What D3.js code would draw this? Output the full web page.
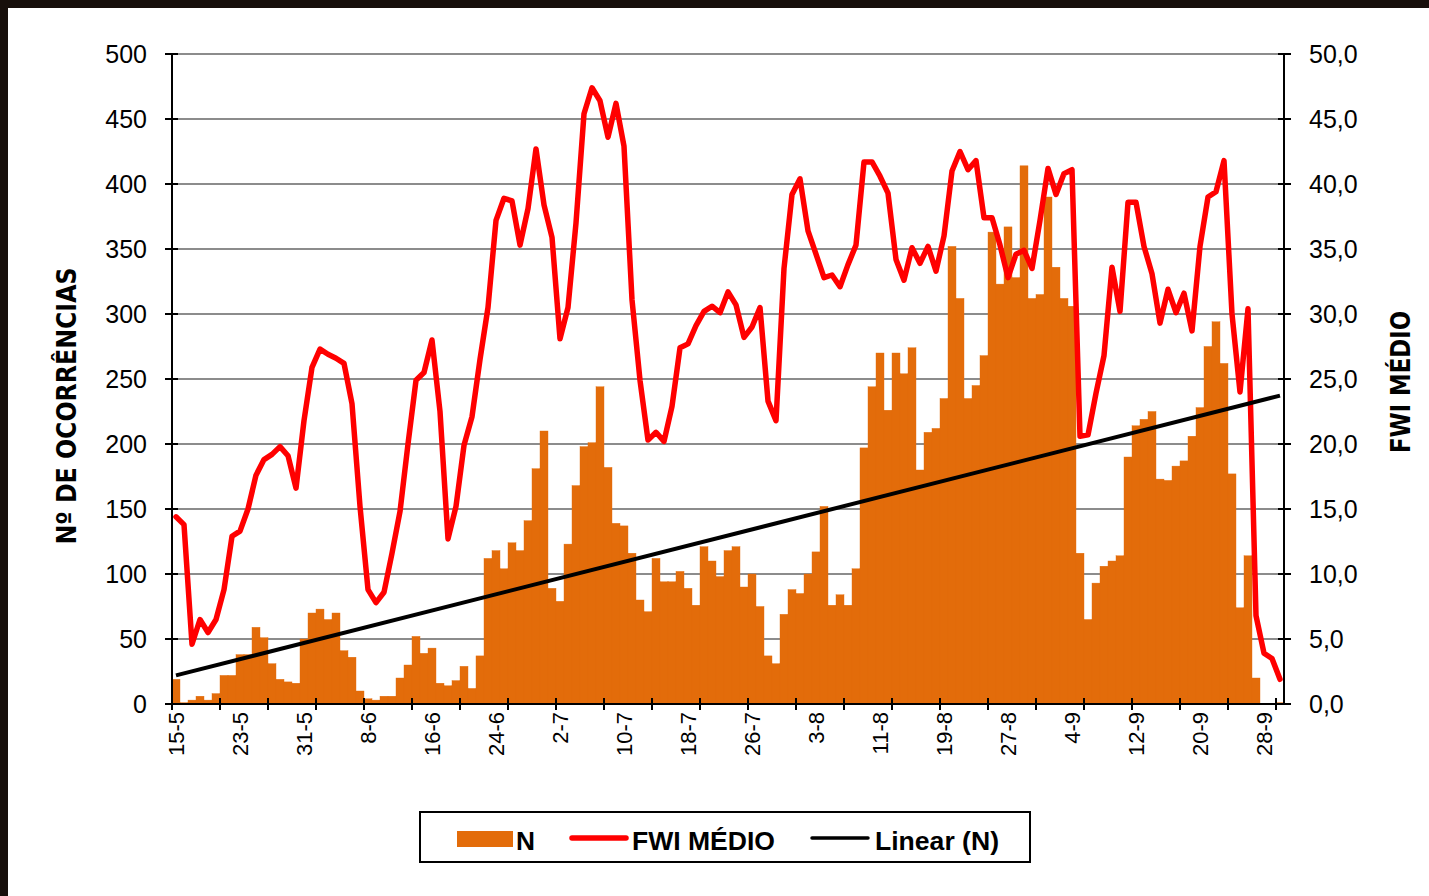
<!DOCTYPE html>
<html>
<head>
<meta charset="utf-8">
<script src="https://cdn.jsdelivr.net/npm/d3@7"></script>
<style>
  html, body { margin: 0; padding: 0; background: #ffffff; }
  svg { display: block; }
  text { font-family: "Liberation Sans", Arial, sans-serif; fill: #000; }
</style>
</head>
<body>
<svg id="chart" width="1429" height="896"></svg>
<script>
// ---- DATA ----
const startDate = "2000-05-15";   // first category (15-5)
const nDays = 139;                // 15-5 .. 30-9
const tickLabels = ["15-5","23-5","31-5","8-6","16-6","24-6","2-7","10-7","18-7","26-7","3-8","11-8","19-8","27-8","4-9","12-9","20-9","28-9"];
const leftTicks = [0,50,100,150,200,250,300,350,400,450,500];
const rightTicks = [0,5,10,15,20,25,30,35,40,45,50];

// N (number of occurrences), one per day
const nValues = [
  19, 1, 3, 6, 3, 8, 22, 22, 38, 38,
  59, 51, 31, 19, 17, 16, 50, 70, 73, 65,
  70, 41, 36, 10, 4, 3, 6, 6, 20, 30,
  52, 39, 43, 16, 14, 18, 29, 12, 37, 112,
  118, 104, 124, 118, 141, 181, 210, 89, 79, 123,
  168, 198, 201, 244, 182, 139, 137, 116, 80, 71,
  112, 94, 94, 102, 89, 76, 121, 110, 98, 118,
  121, 90, 100, 75, 37, 31, 69, 88, 85, 100,
  117, 152, 76, 84, 76, 104, 197, 244, 270, 226,
  270, 254, 274, 180, 209, 212, 235, 352, 312, 235,
  245, 268, 363, 323, 367, 328, 414, 312, 315, 390,
  336, 312, 306, 116, 65, 93, 106, 110, 114, 190,
  214, 219, 225, 173, 172, 183, 187, 206, 228, 275,
  294, 262, 177, 74, 114, 20, 0, 0, 1
];

// FWI MÉDIO, one per day
const fwiValues = [
  14.4, 13.8, 4.6, 6.5, 5.5, 6.5, 8.8, 12.9, 13.3, 15.0,
  17.6, 18.8, 19.2, 19.8, 19.1, 16.6, 21.8, 25.9, 27.3, 26.9,
  26.6, 26.2, 23.1, 15.2, 8.8, 7.8, 8.6, 11.6, 14.8, 20.0,
  24.9, 25.5, 28.0, 22.5, 12.7, 15.2, 19.9, 22.1, 26.5, 30.5,
  37.2, 38.9, 38.7, 35.3, 38.1, 42.7, 38.4, 35.9, 28.1, 30.5,
  37.0, 45.4, 47.4, 46.4, 43.6, 46.2, 42.9, 31.1, 24.9, 20.3,
  20.9, 20.2, 22.9, 27.4, 27.7, 29.1, 30.2, 30.6, 30.1, 31.7,
  30.7, 28.2, 29.0, 30.5, 23.3, 21.8, 33.5, 39.2, 40.4, 36.4,
  34.6, 32.8, 33.0, 32.1, 33.8, 35.3, 41.7, 41.7, 40.6, 39.3,
  34.2, 32.6, 35.1, 33.9, 35.2, 33.3, 36.0, 41.0, 42.5, 41.1,
  41.8, 37.4, 37.4, 35.3, 32.8, 34.6, 34.9, 33.5, 37.2, 41.2,
  39.2, 40.8, 41.1, 20.6, 20.7, 23.9, 26.8, 33.6, 30.2, 38.6,
  38.6, 35.2, 33.1, 29.3, 31.9, 30.1, 31.6, 28.7, 35.2, 39.0,
  39.4, 41.8, 30.0, 24.0, 30.4, 6.8, 3.9, 3.5, 1.9
];

// ---- CATEGORIES ----
const fmt = d3.timeFormat("%-d-%-m");
const d0 = d3.timeParse("%Y-%m-%d")(startDate);
const categories = d3.timeDay.range(d0, d3.timeDay.offset(d0, nDays)).map(fmt);

// ---- LAYOUT ----
const svg = d3.select("#chart");
const W = 1429, H = 896;
const plot = { left: 172, right: 1284, top: 54, bottom: 704 };

svg.append("rect").attr("width", W).attr("height", H).attr("fill", "#ffffff");
// dark frame on top and left edges
svg.append("rect").attr("x", 0).attr("y", 0).attr("width", W).attr("height", 8).attr("fill", "#170f0b");
svg.append("rect").attr("x", 0).attr("y", 0).attr("width", 8).attr("height", H).attr("fill", "#170f0b");

const x = d3.scaleBand().domain(categories).range([plot.left, plot.right]).padding(0);
const yL = d3.scaleLinear().domain([0, 500]).range([plot.bottom, plot.top]);
const yR = d3.scaleLinear().domain([0, 50]).range([plot.bottom, plot.top]);
const cx = c => x(c) + x.bandwidth() / 2;

// gridlines
svg.append("g").selectAll("line").data(leftTicks.filter(v => v > 0)).join("line")
  .attr("x1", plot.left).attr("x2", plot.right)
  .attr("y1", d => yL(d)).attr("y2", d => yL(d))
  .attr("stroke", "#8c8c8c").attr("stroke-width", 2);

// bars
svg.append("g").selectAll("rect").data(nValues).join("rect")
  .attr("x", (d, i) => x(categories[i]))
  .attr("width", x.bandwidth())
  .attr("y", d => yL(d))
  .attr("height", d => plot.bottom - yL(d))
  .attr("fill", "#E36C0A")
  .attr("stroke", "#E36C0A").attr("stroke-width", 0.4);

// linear trend of N (least squares over category index)
const xs = d3.range(1, nValues.length + 1);
const mx = d3.mean(xs), my = d3.mean(nValues);
const slope = d3.sum(xs, (v, i) => (v - mx) * (nValues[i] - my)) / d3.sum(xs, v => (v - mx) * (v - mx));
const intercept = my - slope * mx;
const trend = [
  { c: categories[0], v: intercept + slope * 1 },
  { c: categories[categories.length - 1], v: intercept + slope * nValues.length }
];

// FWI line
const line = d3.line().x((d, i) => cx(categories[i])).y(d => yR(d));
svg.append("path").datum(fwiValues)
  .attr("d", line)
  .attr("fill", "none").attr("stroke", "#FF0000").attr("stroke-width", 5.5)
  .attr("stroke-linejoin", "round").attr("stroke-linecap", "round");

svg.append("path").datum(trend)
  .attr("d", d3.line().x(d => cx(d.c)).y(d => yL(d.v)))
  .attr("fill", "none").attr("stroke", "#000").attr("stroke-width", 4);

// axes lines
const ax = svg.append("g").attr("stroke", "#000").attr("stroke-width", 2);
ax.append("line").attr("x1", plot.left).attr("x2", plot.left).attr("y1", plot.top).attr("y2", plot.bottom);
ax.append("line").attr("x1", plot.right).attr("x2", plot.right).attr("y1", plot.top).attr("y2", plot.bottom);
ax.append("line").attr("x1", plot.left).attr("x2", plot.right).attr("y1", plot.bottom).attr("y2", plot.bottom);

// left ticks
ax.selectAll(".tl").data(leftTicks).join("line")
  .attr("x1", plot.left - 7).attr("x2", plot.left + 6)
  .attr("y1", d => yL(d)).attr("y2", d => yL(d));
// right ticks
ax.selectAll(".tr").data(rightTicks).join("line")
  .attr("x1", plot.right - 6).attr("x2", plot.right + 7)
  .attr("y1", d => yR(d)).attr("y2", d => yR(d));
// bottom ticks every 6 categories at band boundaries
const bTicks = d3.range(0, categories.length, 6);
ax.selectAll(".tb").data(bTicks).join("line")
  .attr("x1", d => x(categories[d])).attr("x2", d => x(categories[d]))
  .attr("y1", plot.bottom - 6).attr("y2", plot.bottom + 6);

// left tick labels
svg.append("g").selectAll("text").data(leftTicks).join("text")
  .attr("x", 147).attr("y", d => yL(d)).attr("dy", "0.36em")
  .attr("text-anchor", "end").style("font-size", "25px")
  .text(d => d);

// right tick labels
const fmtR = v => d3.format(".1f")(v).replace(".", ",");
svg.append("g").selectAll("text").data(rightTicks).join("text")
  .attr("x", 1309).attr("y", d => yR(d)).attr("dy", "0.36em")
  .attr("text-anchor", "start").style("font-size", "25px")
  .text(d => fmtR(d));

// bottom labels (rotated)
svg.append("g").selectAll("text").data(tickLabels).join("text")
  .attr("transform", d => `translate(${cx(d) + 8},712) rotate(-90)`)
  .attr("text-anchor", "end").style("font-size", "22px")
  .text(d => d);

// axis titles
svg.append("text")
  .attr("transform", "translate(76,406) rotate(-90)")
  .attr("text-anchor", "middle")
  .style("font-size", "26px").style("font-weight", "bold")
  .style("font-family", "'Liberation Sans Narrow', 'DejaVu Sans Condensed', 'Liberation Sans', sans-serif")
  .attr("textLength", 277).attr("lengthAdjust", "spacingAndGlyphs")
  .text("Nº DE OCORRÊNCIAS");

svg.append("text")
  .attr("transform", "translate(1410,382) rotate(-90)")
  .attr("text-anchor", "middle")
  .style("font-size", "26px").style("font-weight", "bold")
  .style("font-family", "'Liberation Sans Narrow', 'DejaVu Sans Condensed', 'Liberation Sans', sans-serif")
  .attr("textLength", 142).attr("lengthAdjust", "spacingAndGlyphs")
  .text("FWI MÉDIO");

// legend
const lg = svg.append("g");
lg.append("rect").attr("x", 420).attr("y", 812).attr("width", 610).attr("height", 50)
  .attr("fill", "#fff").attr("stroke", "#000").attr("stroke-width", 2);
lg.append("rect").attr("x", 457).attr("y", 831).attr("width", 56).attr("height", 16).attr("fill", "#E36C0A");
lg.append("text").attr("x", 516).attr("y", 850).style("font-size", "25px").style("font-weight", "bold")
  .attr("textLength", 19).attr("lengthAdjust", "spacingAndGlyphs").text("N");
lg.append("line").attr("x1", 572).attr("x2", 626).attr("y1", 838).attr("y2", 838)
  .attr("stroke", "#FF0000").attr("stroke-width", 5.5).attr("stroke-linecap", "round");
lg.append("text").attr("x", 632).attr("y", 850).style("font-size", "25px").style("font-weight", "bold")
  .attr("textLength", 143).attr("lengthAdjust", "spacingAndGlyphs").text("FWI MÉDIO");
lg.append("line").attr("x1", 812).attr("x2", 868).attr("y1", 838).attr("y2", 838)
  .attr("stroke", "#000").attr("stroke-width", 3.5).attr("stroke-linecap", "round");
lg.append("text").attr("x", 875).attr("y", 850).style("font-size", "25px").style("font-weight", "bold")
  .attr("textLength", 124).attr("lengthAdjust", "spacingAndGlyphs").text("Linear (N)");
</script>
</body>
</html>
